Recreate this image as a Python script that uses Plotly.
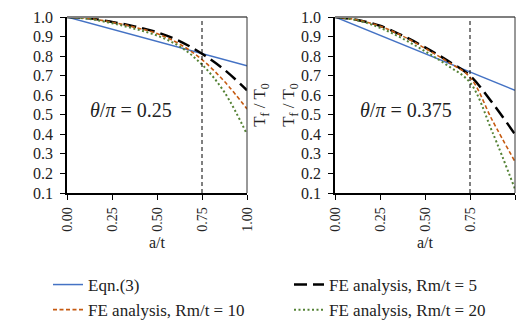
import plotly.graph_objects as go

# ---- data ----
a_t = [0, 0.125, 0.25, 0.375, 0.5, 0.625, 0.75, 0.875, 1.0]
eqn_a = [0.0, 1.0]

# theta/pi = 0.25
eqn_025 = [1.0, 0.75]
fe5_025 = [1.0, 0.993, 0.975, 0.952, 0.922, 0.877, 0.812, 0.73, 0.625]
fe10_025 = [1.0, 0.992, 0.973, 0.948, 0.915, 0.862, 0.782, 0.67, 0.53]
fe20_025 = [1.0, 0.99, 0.968, 0.94, 0.905, 0.85, 0.757, 0.615, 0.40]

# theta/pi = 0.375
eqn_0375 = [1.0, 0.625]
fe5_0375 = [1.0, 0.985, 0.955, 0.905, 0.845, 0.777, 0.70, 0.56, 0.40]
fe10_0375 = [1.0, 0.985, 0.953, 0.903, 0.84, 0.772, 0.692, 0.47, 0.26]
fe20_0375 = [1.0, 0.983, 0.945, 0.89, 0.825, 0.752, 0.665, 0.41, 0.12]

x_ticks = [0.0, 0.25, 0.5, 0.75, 1.0]
x_tick_text = ["0.00", "0.25", "0.50", "0.75", "1.00"]
y_ticks = [0.1, 0.2, 0.3, 0.4, 0.5, 0.6, 0.7, 0.8, 0.9, 1.0]
y_tick_text = ["0.1", "0.2", "0.3", "0.4", "0.5", "0.6", "0.7", "0.8", "0.9", "1.0"]
crack_line = 0.75
labels = ["Eqn.(3)", "FE analysis, Rm/t = 5", "FE analysis, Rm/t = 10", "FE analysis, Rm/t = 20"]
panel_text = ["<i>θ</i>/<i>π</i> = 0.25", "<i>θ</i>/<i>π</i> = 0.375"]

BLUE = "#4472C4"
BLACK = "#000000"
ORANGE = "#C55A11"
GREEN = "#548235"
FONT = "Liberation Serif"
TXT = "#222222"

fig = go.Figure()

panels = [
    ("x", "y", eqn_025, fe5_025, fe10_025, fe20_025),
    ("x2", "y2", eqn_0375, fe5_0375, fe10_0375, fe20_0375),
]
for i, (xa, ya, eq, f5, f10, f20) in enumerate(panels):
    show = i == 0
    fig.add_trace(go.Scatter(x=eqn_a, y=eq, mode="lines", name=labels[0],
                             line=dict(color=BLUE, width=1.5), xaxis=xa, yaxis=ya,
                             showlegend=show, legend="legend", legendrank=1))
    fig.add_trace(go.Scatter(x=a_t, y=f5, mode="lines", name=labels[1], line_shape="spline",
                             line=dict(color=BLACK, width=2.5, dash="13px,6px"), xaxis=xa, yaxis=ya,
                             showlegend=show, legend="legend2", legendrank=1))
    fig.add_trace(go.Scatter(x=a_t, y=f10, mode="lines", name=labels[2], line_shape="spline",
                             line=dict(color=ORANGE, width=1.6, dash="4px,2.5px"), xaxis=xa, yaxis=ya,
                             showlegend=show, legend="legend", legendrank=2))
    fig.add_trace(go.Scatter(x=a_t, y=f20, mode="lines", name=labels[3], line_shape="spline",
                             line=dict(color=GREEN, width=2, dash="2px,2.5px"), xaxis=xa, yaxis=ya,
                             showlegend=show, legend="legend2", legendrank=2))
    fig.add_trace(go.Scatter(x=[crack_line, crack_line], y=[y_ticks[0], y_ticks[-1]], mode="lines",
                             line=dict(color=BLACK, width=1, dash="4px,3px"), xaxis=xa, yaxis=ya,
                             showlegend=False, hoverinfo="skip"))

W, H = 519, 327
ML, MR, MT, MB = 67, 4, 17, 134
PW = W - ML - MR
xdom1 = [0, 180 / PW]
xdom2 = [268 / PW, 1]

xcommon = dict(range=[0, 1], tickvals=x_ticks, ticktext=x_tick_text, tickangle=-90,
               showline=True, linecolor="black", linewidth=1.5, ticks="outside", ticklen=5,
               tickcolor="black", showgrid=False, zeroline=False, automargin=False,
               ticklabelstandoff=2,
               tickfont=dict(family=FONT, size=14, color=TXT),
               title=dict(text="a/t", font=dict(family=FONT, size=16, color=TXT), standoff=6))
ycommon = dict(range=[0.1, 1.0], tickvals=y_ticks, ticktext=y_tick_text,
               showline=True, linecolor="black", linewidth=1.5, ticks="outside", ticklen=5,
               tickcolor="black", showgrid=False, zeroline=False, automargin=False,
               ticklabelstandoff=4,
               tickfont=dict(family=FONT, size=16, color=TXT),
               title=dict(text="T<sub>f</sub> / T<sub>0</sub>", font=dict(family=FONT, size=17, color=TXT),
                          standoff=2))

legend_common = dict(orientation="v", xref="container", yref="container", xanchor="left",
                     yanchor="top", y=1 - 267 / H, tracegroupgap=0,
                     font=dict(family=FONT, size=17, color=TXT), bgcolor="rgba(0,0,0,0)")

fig.update_layout(
    width=W, height=H,
    margin=dict(l=ML, r=MR, t=MT, b=MB, autoexpand=False),
    paper_bgcolor="white", plot_bgcolor="white",
    xaxis=dict(domain=xdom1, anchor="y", **xcommon),
    yaxis=dict(domain=[0, 1], anchor="x", **ycommon),
    xaxis2=dict(domain=xdom2, anchor="y2", **xcommon),
    yaxis2=dict(domain=[0, 1], anchor="x2", **ycommon),
    legend=dict(x=48 / W, **legend_common),
    legend2=dict(x=289 / W, **legend_common),
    showlegend=True,
)

for xa, ya, txt, ax in [("x", "y", panel_text[0], 0.356), ("x2", "y2", panel_text[1], 0.395)]:
    fig.add_shape(type="line", xref=xa + " domain", yref=ya + " domain",
                  x0=0, x1=1, y0=1, y1=1, line=dict(color="#7f7f7f", width=2))
    fig.add_shape(type="line", xref=xa + " domain", yref=ya + " domain",
                  x0=1, x1=1, y0=0, y1=1, line=dict(color="#333", width=1))
    fig.add_annotation(xref=xa + " domain", yref=ya + " domain",
                       x=ax, y=0.47, text=txt, showarrow=False,
                       font=dict(family=FONT, size=20, color=TXT))

fig.write_html("out.html", post_script="document.body.style.margin='0px';",
               config={"displayModeBar": False})
